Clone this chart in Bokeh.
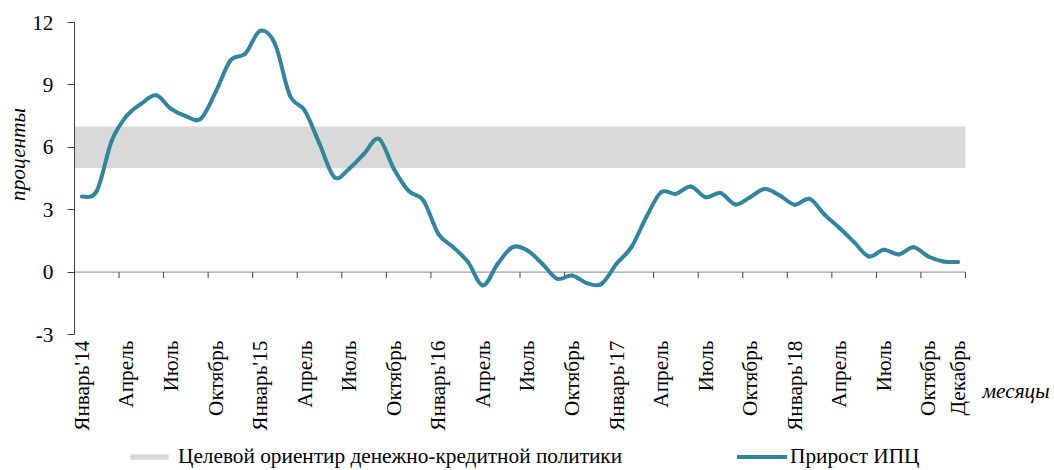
import numpy as np
from math import pi
from bokeh.plotting import figure
from bokeh.models import Legend, LegendItem, Label, FixedTicker, Range1d
from bokeh.embed import file_html
from bokeh.resources import INLINE

# ---- data ----
cpi = [3.63, 3.9, 6.3, 7.5, 8.1, 8.5, 7.85, 7.5, 7.37, 8.65, 10.17, 10.5,
       11.6, 10.97, 8.5, 7.77, 6.17, 4.56, 4.97, 5.69, 6.41, 4.97, 3.9, 3.44,
       1.84, 1.2, 0.48, -0.64, 0.4, 1.2, 1.04, 0.4, -0.32, -0.16, -0.53, -0.56,
       0.4, 1.2, 2.64, 3.84, 3.76, 4.12, 3.6, 3.8, 3.25, 3.6, 4.0, 3.68,
       3.24, 3.52, 2.77, 2.13, 1.44, 0.75, 1.07, 0.85, 1.2, 0.75, 0.51, 0.48]
band_low = 5
band_high = 7
tick_idx = [0, 3, 6, 9, 12, 15, 18, 21, 24, 27, 30, 33, 36, 39, 42, 45, 48, 51, 54, 57, 59]
tick_labels = ["Январь'14", "Апрель", "Июль", "Октябрь",
               "Январь'15", "Апрель", "Июль", "Октябрь",
               "Январь'16", "Апрель", "Июль", "Октябрь",
               "Январь'17", "Апрель", "Июль", "Октябрь",
               "Январь'18", "Апрель", "Июль", "Октябрь", "Декабрь"]
y_ticks = [-3, 0, 3, 6, 9, 12]
y_tick_labels = ["-3", "0", "3", "6", "9", "12"]
band_name = "Целевой ориентир денежно-кредитной политики"
line_name = "Прирост ИПЦ"
y_title = "проценты"
x_title = "месяцы"

# ---- layout / style ----
W, H = 1054, 470
AX_LEFT = 74.0      # pixel x of the start of the first month
CAT_W = 14.85       # pixels per month
TOP_PX = 22.0       # pixel y of the top y tick
PX_PER_UNIT = 20.8  # pixels per percentage point
FONT = "Liberation Serif"
FS = "21.3px"
LINE_COLOR = "#31859C"
BAND_COLOR = "#D9D9D9"
AXIS_COLOR = "#404040"

n = len(cpi)
xs = np.arange(n, dtype=float)
ys = np.array(cpi, dtype=float)
y_min, y_max = min(y_ticks), max(y_ticks)

x_start = -0.5 - AX_LEFT / CAT_W
y_end = y_max + TOP_PX / PX_PER_UNIT
p = figure(width=W, height=H,
           x_range=Range1d(x_start, x_start + W / CAT_W),
           y_range=Range1d(y_end - H / PX_PER_UNIT, y_end),
           output_backend="svg", toolbar_location=None, min_border=0)
p.grid.visible = False
p.outline_line_color = None
p.background_fill_color = "white"
p.border_fill_color = "white"

# target band
band = p.quad(left=-0.5, right=n - 0.5, bottom=band_low, top=band_high,
              fill_color=BAND_COLOR, line_color=None)

# zero line with category boundary ticks
p.segment(x0=[-0.5], y0=[0], x1=[n - 0.5], y1=[0], line_color="#868686", line_width=1)
bnd = np.arange(-0.5, n, 3.0)
p.segment(x0=bnd, y0=np.zeros_like(bnd), x1=bnd, y1=np.full_like(bnd, -6 / PX_PER_UNIT),
          line_color=AXIS_COLOR, line_width=1)

# smoothed line (Bezier segments through the monthly values)
xp = np.concatenate([[xs[0]], xs, [xs[-1]]])
yp = np.concatenate([[ys[0]], ys, [ys[-1]]])
x0 = xs[:-1]; y0 = ys[:-1]; x1 = xs[1:]; y1 = ys[1:]
cx0 = x0 + (xp[2:-1] - xp[0:-3]) / 6.0
cy0 = y0 + (yp[2:-1] - yp[0:-3]) / 6.0
cx1 = x1 - (xp[3:] - xp[1:-2]) / 6.0
cy1 = y1 - (yp[3:] - yp[1:-2]) / 6.0
curve = p.bezier(x0=x0, y0=y0, x1=x1, y1=y1, cx0=cx0, cy0=cy0, cx1=cx1, cy1=cy1,
                 line_color=LINE_COLOR, line_width=4, line_cap="round")

# x axis (month labels) drawn at the bottom of the value range
xa = p.xaxis[0]
xa.fixed_location = y_min
xa.bounds = (-0.5, n - 0.5)
xa.ticker = FixedTicker(ticks=tick_idx)
xa.major_label_overrides = {i: lab for i, lab in zip(tick_idx, tick_labels)}
xa.major_label_orientation = pi / 2
xa.axis_line_color = None
xa.major_tick_line_color = None
xa.major_tick_out = 0
xa.major_tick_in = 0
xa.minor_tick_line_color = None
xa.major_label_standoff = 6
xa.major_label_text_font = FONT
xa.major_label_text_font_size = FS
xa.major_label_text_color = "black"

# y axis at the start of the first month
ya = p.yaxis[0]
ya.fixed_location = -0.5
ya.bounds = (y_min, y_max)
ya.ticker = FixedTicker(ticks=y_ticks)
ya.major_label_overrides = {t: lab for t, lab in zip(y_ticks, y_tick_labels)}
ya.axis_line_color = AXIS_COLOR
ya.major_tick_line_color = AXIS_COLOR
ya.major_tick_out = 7
ya.major_tick_in = 0
ya.minor_tick_line_color = None
ya.major_label_standoff = 14
ya.major_label_text_font = FONT
ya.major_label_text_font_size = FS
ya.major_label_text_color = "black"

# axis titles
p.add_layout(Label(x=17, y=H - 154, x_units="screen", y_units="screen", text=y_title,
                   angle=pi / 2, text_align="center", text_baseline="middle",
                   text_font=FONT, text_font_style="italic", text_font_size=FS,
                   text_color="black"))
p.add_layout(Label(x=982, y=H - 390, x_units="screen", y_units="screen", text=x_title,
                   text_align="left", text_baseline="middle",
                   text_font=FONT, text_font_style="italic", text_font_size=FS,
                   text_color="black"))

# legends
def make_legend(item, loc, gw, gh, standoff):
    return Legend(items=[item], location=loc, orientation="horizontal",
                  padding=0, margin=0, spacing=0, label_standoff=standoff,
                  glyph_width=gw, glyph_height=gh,
                  border_line_color=None, background_fill_alpha=0,
                  label_text_font=FONT, label_text_font_size=FS,
                  label_text_color="black")

p.add_layout(make_legend(LegendItem(label=band_name, renderers=[band]), (125, 1), 48, 7, 5))
p.add_layout(make_legend(LegendItem(label=line_name, renderers=[curve]), (737, 1), 50, 7, 3))

open("out.html", "w").write(file_html(p, INLINE))
